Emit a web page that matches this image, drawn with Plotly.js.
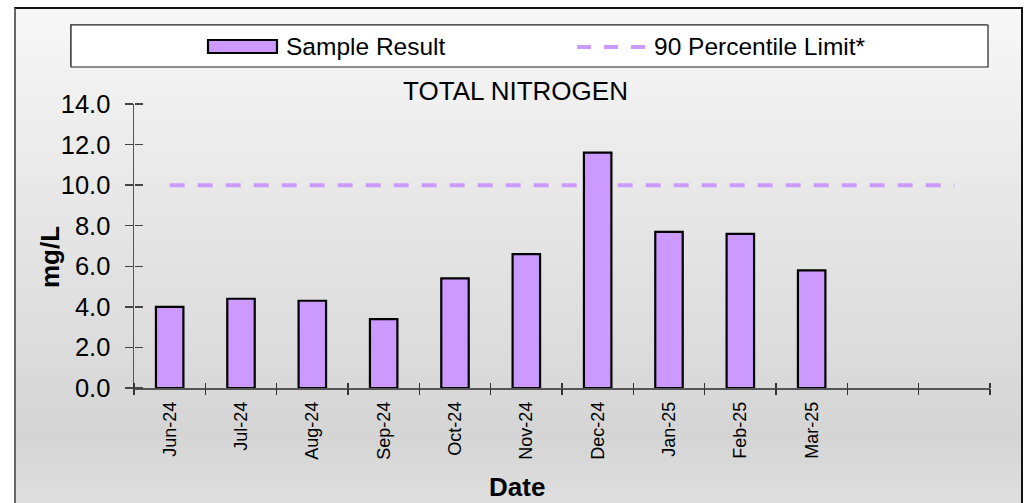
<!DOCTYPE html>
<html>
<head>
<meta charset="utf-8">
<script src="https://cdn.plot.ly/plotly-3.0.1.min.js"></script>
<style>
  html, body { margin: 0; padding: 0; background: #ffffff; width: 1031px; height: 503px; overflow: hidden; }
  #bg {
    position: absolute; left: 14px; top: 7px; width: 1005px; height: 520px;
    border-left: 2px solid #666; border-top: 2px solid #111; border-right: 2px solid #111;
    background: linear-gradient(to bottom, #f8f8f8 0%, #ececec 25%, #e0e0e0 55%, #d5d5d5 82%, #e2e2e2 100%);
  }
  #chart { position: absolute; left: 0; top: 0; width: 1031px; height: 503px; }
</style>
</head>
<body>
<div id="bg"></div>
<div id="chart"></div>
<script>
// ---- data ----
const categories = ['Jun-24', 'Jul-24', 'Aug-24', 'Sep-24', 'Oct-24', 'Nov-24',
                    'Dec-24', 'Jan-25', 'Feb-25', 'Mar-25', '', ''];
const sampleResult = [4.0, 4.4, 4.3, 3.4, 5.4, 6.6, 11.6, 7.7, 7.6, 5.8];
const limitValues = [10, 10, 10, 10, 10, 10, 10, 10, 10, 10, 10, 10];
const yTicks = [0, 2, 4, 6, 8, 10, 12, 14];
const chartTitle = 'TOTAL NITROGEN';
const yTitle = 'mg/L';
const xTitle = 'Date';
const seriesNames = ['Sample Result', '90 Percentile Limit*'];

// ---- geometry helpers (pixel -> paper) ----
const W = 1031, H = 503;
const M = { l: 134, r: 41, t: 104, b: 115 };
const PW = W - M.l - M.r, PH = H - M.t - M.b;
const px = v => (v - M.l) / PW;
const py = v => (H - M.b - v) / PH;

const slotX = categories.map((_, i) => i);
const barX = sampleResult.map((_, i) => i);
const bounds = categories.map((_, i) => i - 0.5).concat([categories.length - 0.5]);
const xRange = [-0.5, categories.length - 0.5];
const yRange = [0, 14];

const FILL = '#cc99ff';
const FONT = 'Liberation Sans, Arial, sans-serif';

// empty helper traces so the tick-only overlay axes get drawn
const axisHolder = (xa, ya) => ({
  type: 'scatter', mode: 'markers', x: [null], y: [null], xaxis: xa, yaxis: ya,
  showlegend: false, hoverinfo: 'skip'
});

const traces = [
  {
    type: 'bar', x: barX, y: sampleResult, name: seriesNames[0], width: 0.385,
    marker: { color: FILL, line: { color: '#000', width: 2.2 } },
    showlegend: false, hoverinfo: 'y'
  },
  {
    type: 'scatter', mode: 'lines', x: slotX, y: limitValues, name: seriesNames[1],
    line: { color: FILL, width: 4, dash: '15px,13px' },
    showlegend: false, hoverinfo: 'y'
  },
  axisHolder('x2', 'y'),
  axisHolder('x3', 'y'),
  axisHolder('x', 'y2')
];

const axisCommon = { showgrid: false, zeroline: false, fixedrange: true };

const layout = {
  width: W, height: H,
  margin: M,
  paper_bgcolor: 'rgba(0,0,0,0)',
  plot_bgcolor: 'rgba(0,0,0,0)',
  font: { family: FONT, color: '#000' },
  showlegend: false,
  bargap: 0,
  title: {
    text: chartTitle, font: { family: FONT, size: 26, color: '#000' },
    xref: 'container', x: 0.5, xanchor: 'center',
    yref: 'container', y: 1 - 91 / H, yanchor: 'middle'
  },
  xaxis: Object.assign({}, axisCommon, {
    range: xRange, tickmode: 'array', tickvals: slotX, ticktext: categories,
    ticks: '', tickangle: -90, tickfont: { family: FONT, size: 18, color: '#000' },
    ticklabelstandoff: 5,
    showline: true, linecolor: '#555', linewidth: 1.5
  }),
  // downward half of the crossing x ticks
  xaxis2: Object.assign({}, axisCommon, {
    overlaying: 'x', anchor: 'y', side: 'bottom', range: xRange,
    tickmode: 'array', tickvals: bounds, showticklabels: false,
    ticks: 'outside', ticklen: 6, tickcolor: '#333', tickwidth: 1.3, showline: false
  }),
  // upward half of the crossing x ticks
  xaxis3: Object.assign({}, axisCommon, {
    overlaying: 'x', anchor: 'free', position: 0, side: 'top', range: xRange,
    tickmode: 'array', tickvals: bounds, showticklabels: false,
    ticks: 'outside', ticklen: 5, tickcolor: '#333', tickwidth: 1.3, showline: false
  }),
  yaxis: Object.assign({}, axisCommon, {
    range: yRange, tickmode: 'array', tickvals: yTicks, tickformat: '.1f',
    ticks: 'outside', ticklen: 8, tickcolor: '#444', tickwidth: 1.3,
    ticklabelstandoff: 9,
    tickfont: { family: FONT, size: 25.5, color: '#000' },
    showline: true, linecolor: '#555', linewidth: 1.5
  }),
  // right-pointing half of the crossing y ticks
  yaxis2: Object.assign({}, axisCommon, {
    overlaying: 'y', anchor: 'free', position: 0, side: 'right', range: yRange,
    tickmode: 'array', tickvals: yTicks, showticklabels: false,
    ticks: 'outside', ticklen: 8, tickcolor: '#444', tickwidth: 1.3, showline: false
  }),
  shapes: [
    // legend box shadow + box
    { type: 'rect', xref: 'paper', yref: 'paper', layer: 'above',
      x0: px(70), x1: px(987), y0: py(24), y1: py(66),
      fillcolor: '#888', line: { width: 0 } },
    { type: 'rect', xref: 'paper', yref: 'paper', layer: 'above',
      x0: px(71), x1: px(988), y0: py(25), y1: py(67),
      fillcolor: '#ffffff', line: { color: '#222', width: 1.2 } },
    // legend bar symbol
    { type: 'rect', xref: 'paper', yref: 'paper', layer: 'above',
      x0: px(208), x1: px(277), y0: py(40), y1: py(53),
      fillcolor: FILL, line: { color: '#000', width: 2.2 } },
    // legend dash symbol
    { type: 'line', xref: 'paper', yref: 'paper', layer: 'above',
      x0: px(577), x1: px(648), y0: py(47), y1: py(47),
      line: { color: FILL, width: 4, dash: '14px,13px' } }
  ],
  annotations: [
    { xref: 'paper', yref: 'paper', x: px(284), y: py(47), xanchor: 'left', yanchor: 'middle',
      text: seriesNames[0], showarrow: false, font: { family: FONT, size: 24.5, color: '#000' } },
    { xref: 'paper', yref: 'paper', x: px(652), y: py(47), xanchor: 'left', yanchor: 'middle',
      text: seriesNames[1], showarrow: false, font: { family: FONT, size: 24.5, color: '#000' } },
    { xref: 'paper', yref: 'paper', x: px(50), y: py(257), xanchor: 'center', yanchor: 'middle',
      textangle: -90, text: '<b>' + yTitle + '</b>', showarrow: false,
      font: { family: FONT, size: 26, color: '#000' } },
    { xref: 'paper', yref: 'paper', x: px(517), y: py(487), xanchor: 'center', yanchor: 'middle',
      text: '<b>' + xTitle + '</b>', showarrow: false,
      font: { family: FONT, size: 26, color: '#000' } }
  ]
};

Plotly.newPlot('chart', traces, layout, { staticPlot: true, displayModeBar: false });
</script>
</body>
</html>
